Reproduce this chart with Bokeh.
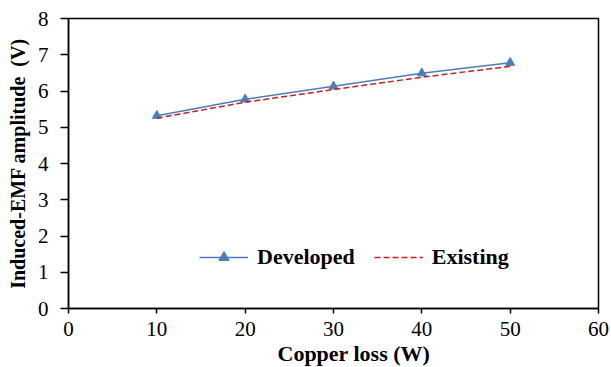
from bokeh.plotting import figure
from bokeh.models import Range1d, FixedTicker, Legend, LegendItem, Title
from bokeh.embed import file_html
from bokeh.resources import INLINE

copper_loss = [10, 20, 30, 40, 50]
developed = [5.32, 5.77, 6.13, 6.49, 6.78]
existing = [5.25, 5.69, 6.04, 6.38, 6.68]
x_ticks = [0, 10, 20, 30, 40, 50, 60]
y_ticks = [0, 1, 2, 3, 4, 5, 6, 7, 8]

FONT = "Liberation Serif"
BLUE = "#4A7EBB"
RED = "#CC1F1F"

p = figure(width=611, height=367, output_backend="svg", toolbar_location=None,
           x_range=Range1d(0, 60), y_range=Range1d(0, 8),
           min_border_left=68, min_border_right=13, min_border_top=18, min_border_bottom=59)
p.background_fill_color = "white"
p.border_fill_color = "white"
p.outline_line_color = "black"
p.outline_line_width = 1.5
p.xgrid.visible = False
p.ygrid.visible = False

for ax in (p.xaxis, p.yaxis):
    ax.axis_line_color = "black"
    ax.axis_line_width = 1.5
    ax.major_tick_line_color = "black"
    ax.major_tick_line_width = 1.5
    ax.minor_tick_line_color = None
    ax.major_tick_in = 0
    ax.major_label_text_font = FONT
    ax.major_label_text_font_size = "21px"
    ax.major_label_text_color = "black"
    ax.axis_label_text_font = FONT
    ax.axis_label_text_font_style = "bold"
    ax.axis_label_text_font_size = "20px"
    ax.axis_label_text_color = "black"

p.xaxis.ticker = FixedTicker(ticks=x_ticks)
p.yaxis.ticker = FixedTicker(ticks=y_ticks)
p.xaxis.major_tick_out = 5
p.yaxis.major_tick_out = 8
p.xaxis.major_label_standoff = 8
p.yaxis.major_label_standoff = 12
p.yaxis.axis_label = "Induced-EMF amplitude\u00a0\u00a0(V)"
p.yaxis.axis_label_standoff = 6

xtitle = Title(text="Copper loss (W)", align="left", offset=209,
               text_font=FONT, text_font_style="bold", text_font_size="22px",
               text_color="black", standoff=0)
p.add_layout(xtitle, "below")

r_dev = p.line(copper_loss, developed, line_color=BLUE, line_width=1.5)
m_dev = p.scatter(copper_loss, developed, marker="triangle", size=9,
                  fill_color=BLUE, line_color=BLUE)
r_ex = p.line(copper_loss, existing, line_color=RED, line_width=1.5, line_dash="6 3")

legend = Legend(items=[LegendItem(label="Developed", renderers=[r_dev, m_dev]),
                       LegendItem(label="Existing", renderers=[r_ex])],
                orientation="horizontal", location=(131, 38),
                glyph_width=49, glyph_height=26, label_standoff=9, spacing=19,
                padding=0, margin=0, border_line_color=None,
                background_fill_alpha=0,
                label_text_font=FONT, label_text_font_style="bold",
                label_text_font_size="22px", label_text_color="black")
p.add_layout(legend, "center")

open("out.html", "w").write(file_html(p, INLINE))
